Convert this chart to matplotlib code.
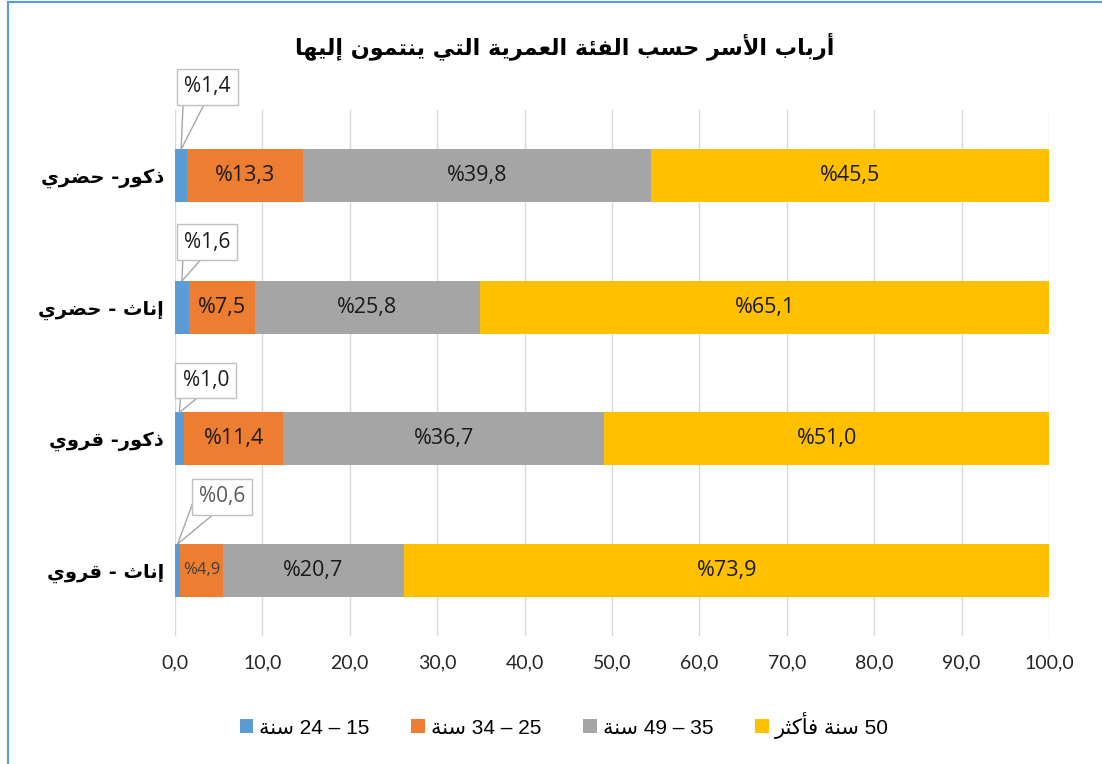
#!/usr/bin/env python3
# أرباب الأسر حسب الفئة العمرية - رسم بياني أفقي مكدس
import re
import matplotlib
matplotlib.use('Agg')
import matplotlib.pyplot as plt
from matplotlib.lines import Line2D

# البيانات (من الأعلى إلى الأسفل)
categories = ['ذكور- حضري', 'إناث - حضري', 'ذكور- قروي', 'إناث - قروي']
age_groups = ['15 – 24 سنة', '25 – 34 سنة', '35 – 49 سنة', '50 سنة فأكثر']
v_15_24 = [1.4, 1.6, 1.0, 0.6]
v_25_34 = [13.3, 7.5, 11.4, 4.9]
v_35_49 = [39.8, 25.8, 36.7, 20.7]
v_50_plus = [45.5, 65.1, 51.0, 73.9]
x_ticks = [0, 10, 20, 30, 40, 50, 60, 70, 80, 90, 100]
title = 'أرباب الأسر حسب الفئة العمرية التي ينتمون إليها'

colors = ['#5B9BD5', '#ED7D31', '#A5A5A5', '#FFC000']
# إزاحة صناديق التعليق للفئة الأولى (بالنقاط)
callout_offsets = [(19, 45), (18, 28), (19, 23), (32, 34)]

# --- تشكيل الحروف العربية (بدون مكتبات خارجية) ---
DUAL = {'ئ': 0xFE89, 'ب': 0xFE8F, 'ت': 0xFE95, 'ث': 0xFE99, 'ح': 0xFEA1,
        'س': 0xFEB1, 'ض': 0xFEBD, 'ع': 0xFEC9, 'ف': 0xFED1, 'ق': 0xFED5,
        'ك': 0xFED9, 'ل': 0xFEDD, 'م': 0xFEE1, 'ن': 0xFEE5, 'ه': 0xFEE9,
        'ي': 0xFEF1}
RIGHT = {'أ': 0xFE83, 'إ': 0xFE87, 'ا': 0xFE8D, 'ة': 0xFE93, 'ذ': 0xFEAB,
         'ر': 0xFEAD, 'و': 0xFEED, 'د': 0xFEA9, 'ز': 0xFEAF, 'ى': 0xFEEF}
LAM_ALEF = {'آ': 0xFEF5, 'أ': 0xFEF7, 'إ': 0xFEF9, 'ا': 0xFEFB}


def shape(text):
    units = []
    i = 0
    while i < len(text):
        c = text[i]
        if c == 'ل' and i + 1 < len(text) and text[i + 1] in LAM_ALEF:
            units.append(('R', LAM_ALEF[text[i + 1]]))
            i += 2
            continue
        if c in DUAL:
            units.append(('D', DUAL[c]))
        elif c in RIGHT:
            units.append(('R', RIGHT[c]))
        else:
            units.append(('N', c))
        i += 1
    out = []
    for k, (t, base) in enumerate(units):
        if t == 'N':
            out.append(base)
            continue
        prev = k > 0 and units[k - 1][0] == 'D'
        nxt = t == 'D' and k + 1 < len(units) and units[k + 1][0] in 'DR'
        off = 3 if (prev and nxt) else 2 if nxt else 1 if prev else 0
        out.append(chr(base + off))
    return ''.join(out)


def rtl(text):
    """ترتيب بصري بسيط لفقرة من اليمين إلى اليسار"""
    s = shape(text)
    parts = re.findall(r'[0-9A-Za-z.,%]+|.', s)
    return ''.join(reversed(parts))


def fmt(v):
    return '%' + f'{v:.1f}'.replace('.', ',')


fig = plt.figure(figsize=(11.02, 7.64), dpi=100)
ax = fig.add_axes([0.1588, 0.1675, 0.7931, 0.6885])

series = [v_15_24, v_25_34, v_35_49, v_50_plus]
y = list(range(len(categories)))
left = [0.0] * len(categories)
bar_h = 0.40
containers = []
for vals, col, lab in zip(series, colors, age_groups):
    bc = ax.barh(y, vals, left=left, height=bar_h, color=col, label=rtl(lab), zorder=3)
    containers.append(bc)
    left = [l + v for l, v in zip(left, vals)]

num_font = ['Open Sans', 'DejaVu Sans']

# تسميات داخل الأشرطة
for si in range(1, 4):
    for i, rect in enumerate(containers[si]):
        v = series[si][i]
        small = v < 6
        ax.text(rect.get_x() + rect.get_width() / 2, rect.get_y() + rect.get_height() / 2,
                fmt(v), ha='center', va='center', fontsize=12 if small else 15.5,
                color='#404040' if small else '#1a1a1a', family=num_font, zorder=4)

# صناديق التعليق للفئة 15-24
for i, rect in enumerate(containers[0]):
    v = v_15_24[i]
    anchor = (rect.get_x() + rect.get_width() / 2, rect.get_y())
    dx, dy = callout_offsets[i]
    tcol = '#595959' if i == 3 else '#1a1a1a'
    ax.annotate(fmt(v), xy=anchor, xytext=(dx, dy), textcoords='offset points',
                ha='center', va='center', fontsize=15, color=tcol, family=num_font,
                bbox=dict(boxstyle='square,pad=0.35', fc='white', ec='#BFBFBF', lw=1),
                arrowprops=dict(arrowstyle='-', color='#A6A6A6', lw=1, relpos=(0.5, 0),
                                shrinkA=0, shrinkB=0),
                annotation_clip=False, zorder=6)
    ax.annotate(fmt(v), xy=anchor, xytext=(dx, dy), textcoords='offset points',
                ha='center', va='center', fontsize=15, color='none', family=num_font,
                bbox=dict(boxstyle='square,pad=0.35', fc='none', ec='none'),
                arrowprops=dict(arrowstyle='-', color='#A6A6A6', lw=1, relpos=(0, 1),
                                shrinkA=0, shrinkB=0, patchA=None),
                annotation_clip=False, zorder=5)

ax.set_xlim(0, 100)
ax.set_ylim(len(categories) - 0.5, -0.5)
ax.set_xticks(x_ticks)
ax.set_xticklabels([f'{t:.1f}'.replace('.', ',') for t in x_ticks], fontsize=14,
                   family=['Liberation Sans Narrow', 'Lato', 'DejaVu Sans'], color='#262626')
ax.set_yticks(y)
ax.set_yticklabels([rtl(c) for c in categories], fontsize=14, fontweight='bold',
                   family='DejaVu Sans')
ax.tick_params(axis='both', length=0)
ax.tick_params(axis='x', pad=13)
ax.tick_params(axis='y', pad=8)
ax.xaxis.grid(True, color='#D9D9D9', lw=1, zorder=0)
ax.set_axisbelow(True)
for sp in ax.spines.values():
    sp.set_visible(False)

fig.text(0.512, 0.94, rtl(title), ha='center', va='center', fontsize=16,
         fontweight='bold', family='DejaVu Sans')

leg = fig.legend(loc='center', bbox_to_anchor=(0.512, 0.051), ncol=4, frameon=False,
                 handlelength=0.65, handleheight=0.65, handletextpad=0.3, columnspacing=2.0,
                 prop={'family': ['Liberation Sans', 'DejaVu Sans'], 'size': 15})

# إطار المخطط (الحافة اليسرى والعليا)
fig.add_artist(Line2D([8 / 1102, 8 / 1102], [0, 0.997], color='#5B9BD5', lw=1.5))
fig.add_artist(Line2D([8 / 1102, 1], [0.997, 0.997], color='#5B9BD5', lw=1.5))

fig.savefig('out.png', dpi=100)
